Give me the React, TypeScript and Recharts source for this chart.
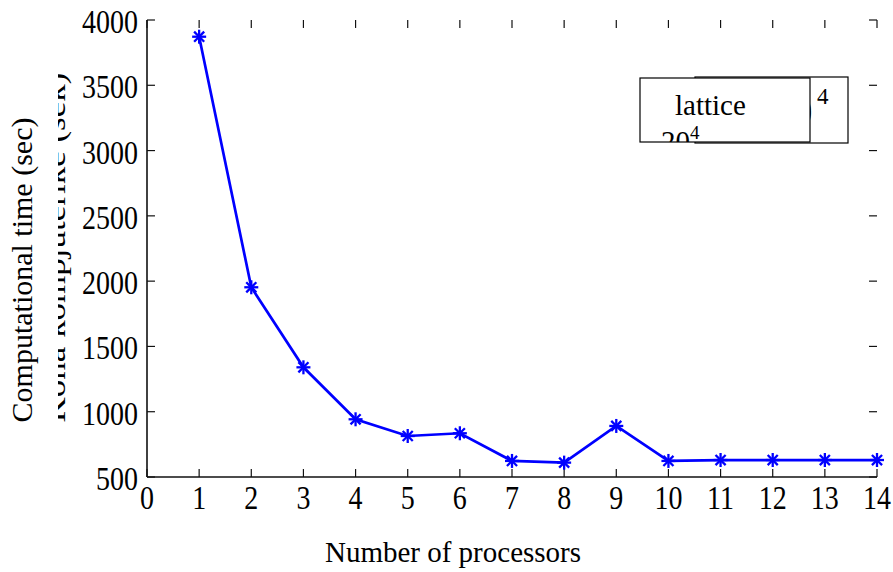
import React from 'react';
import { LineChart, Line, XAxis, YAxis, Customized, ReferenceLine } from 'recharts';

const processors = [1, 2, 3, 4, 5, 6, 7, 8, 9, 10, 11, 12, 13, 14];
const timesSec = [3872, 1953, 1340, 942, 814, 835, 623, 610, 891, 623, 630, 630, 630, 630];
const xTicks = [0, 1, 2, 3, 4, 5, 6, 7, 8, 9, 10, 11, 12, 13, 14];
const yTicks = [500, 1000, 1500, 2000, 2500, 3000, 3500, 4000];

const data = processors.map((p, i) => ({ p, t: timesSec[i] }));

const X_MIN = 0;
const X_MAX = 14;
const Y_MIN = 500;
const Y_MAX = 4000;
const X_TICK_LEN = 0.153;
const Y_TICK_LEN = 61;

const FONT = '"Liberation Serif", "Times New Roman", serif';
const BLUE = '#0000ff';
const AX = '#111';

const Star = (props: any) => {
  const { cx, cy } = props;
  if (cx == null || cy == null) return <g />;
  const r = 7;
  const d = r * 0.72;
  return (
    <g stroke={BLUE} strokeWidth={2.3}>
      <line x1={cx - r} y1={cy} x2={cx + r} y2={cy} />
      <line x1={cx} y1={cy - r} x2={cx} y2={cy + r} />
      <line x1={cx - d} y1={cy - d} x2={cx + d} y2={cy + d} />
      <line x1={cx - d} y1={cy + d} x2={cx + d} y2={cy - d} />
    </g>
  );
};

const XTick = (props: any) => {
  const { x, y, payload } = props;
  return (
    <text
      transform={`translate(${x},${y + 32}) scale(1,1.2)`}
      textAnchor="middle"
      fontFamily={FONT}
      fontSize={28}
      fill="#000"
    >
      {payload.value}
    </text>
  );
};

const YTick = (props: any) => {
  const { x, y, payload } = props;
  return (
    <text
      transform={`translate(${x},${y + 13}) scale(1,1.2)`}
      textAnchor="end"
      fontFamily={FONT}
      fontSize={28}
      fill="#000"
    >
      {payload.value}
    </text>
  );
};

const Overlay = () => (
  <g fontFamily={FONT} fill="#000">
    <text
      transform="translate(65,247.5) scale(0.82,1) rotate(-90)"
      textAnchor="middle"
      fontSize={35}
    >
      Koha kompjuterike (sek)
    </text>
    <rect x={0} y={30} width={58} height={420} fill="#fff" />
    <text transform="translate(32,270) rotate(-90)" textAnchor="middle" fontSize={30}>
      Computational time (sec)
    </text>
    <text x={453} y={562} textAnchor="middle" fontSize={29}>
      Number of processors
    </text>
    <rect x={695} y={77} width={153} height={66} fill="#fff" stroke="#000" strokeWidth={1.2} />
    <text transform="translate(812,124) scale(0.82,1)" textAnchor="end" fontSize={36}>
      20
    </text>
    <text x={817} y={104} fontSize={23}>
      4
    </text>
    <defs>
      <clipPath id="lgclip">
        <rect x={640} y={78} width={170} height={64} />
      </clipPath>
    </defs>
    <rect x={640} y={78} width={170} height={64} fill="#fff" stroke="#000" strokeWidth={1.2} />
    <g clipPath="url(#lgclip)">
      <text x={675} y={115} fontSize={29}>lattice</text>
      <text x={661} y={151} fontSize={29}>20</text>
      <text x={690} y={139} fontSize={19}>4</text>
    </g>
  </g>
);

export default function App() {
  return (
    <div style={{ position: 'absolute', left: 0, top: 0, width: 893, height: 572, background: '#fff' }}>
      <LineChart
        width={893}
        height={572}
        data={data}
        margin={{ top: 20, right: 16, left: 0, bottom: 0 }}
      >
        <Customized component={Overlay} />
        <XAxis
          xAxisId="bottom"
          dataKey="p"
          type="number"
          domain={[X_MIN, X_MAX]}
          ticks={xTicks}
          interval={0}
          height={95}
          axisLine={{ stroke: AX, strokeWidth: 1.6 }}
          tickLine={false}
          tickMargin={0}
          tickSize={0}
          tick={<XTick />}
        />
        <XAxis
          xAxisId="top"
          orientation="top"
          dataKey="p"
          type="number"
          domain={[X_MIN, X_MAX]}
          ticks={xTicks}
          interval={0}
          height={0}
          axisLine={{ stroke: AX, strokeWidth: 1.6 }}
          tickLine={false}
          tick={false}
        />
        <YAxis
          yAxisId="left"
          type="number"
          domain={[Y_MIN, Y_MAX]}
          ticks={yTicks}
          interval={0}
          width={147}
          axisLine={{ stroke: AX, strokeWidth: 1.6 }}
          tickLine={false}
          tickSize={0}
          tickMargin={9}
          tick={<YTick />}
        />
        <YAxis
          yAxisId="right"
          orientation="right"
          type="number"
          domain={[Y_MIN, Y_MAX]}
          ticks={yTicks}
          interval={0}
          width={0}
          axisLine={{ stroke: AX, strokeWidth: 1.6 }}
          tickLine={false}
          tick={false}
        />
        {xTicks.map((v) => (
          <ReferenceLine
            key={`xb-${v}`}
            xAxisId="bottom"
            yAxisId="left"
            segment={[{ x: v, y: Y_MIN }, { x: v, y: Y_MIN + Y_TICK_LEN }]}
            stroke={AX}
            strokeWidth={1.2}
          />
        ))}
        {xTicks.map((v) => (
          <ReferenceLine
            key={`xt-${v}`}
            xAxisId="bottom"
            yAxisId="left"
            segment={[{ x: v, y: Y_MAX }, { x: v, y: Y_MAX - Y_TICK_LEN }]}
            stroke={AX}
            strokeWidth={1.2}
          />
        ))}
        {yTicks.map((v) => (
          <ReferenceLine
            key={`yl-${v}`}
            xAxisId="bottom"
            yAxisId="left"
            segment={[{ x: X_MIN, y: v }, { x: X_MIN + X_TICK_LEN, y: v }]}
            stroke={AX}
            strokeWidth={1.2}
          />
        ))}
        {yTicks.map((v) => (
          <ReferenceLine
            key={`yr-${v}`}
            xAxisId="bottom"
            yAxisId="left"
            segment={[{ x: X_MAX, y: v }, { x: X_MAX - X_TICK_LEN, y: v }]}
            stroke={AX}
            strokeWidth={1.2}
          />
        ))}
        <Line
          xAxisId="bottom"
          yAxisId="left"
          dataKey="t"
          type="linear"
          stroke={BLUE}
          strokeWidth={2.7}
          dot={(p: any) => <Star key={`s-${p.index}`} {...p} />}
          activeDot={false}
          isAnimationActive={false}
        />
      </LineChart>
    </div>
  );
}
